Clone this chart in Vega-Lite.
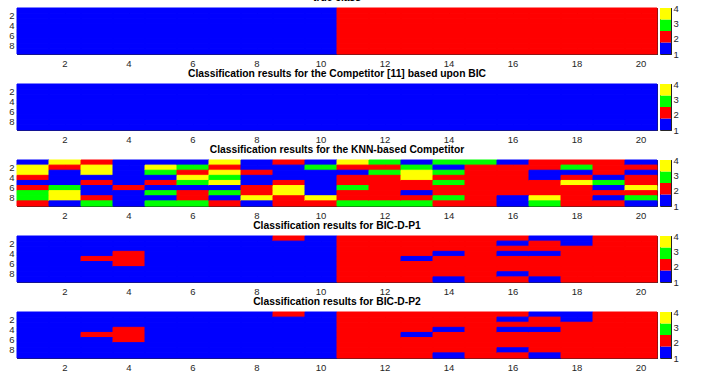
{
  "$schema": "https://vega.github.io/schema/vega-lite/v6.json",
  "padding": {"left": 8, "top": -8, "right": 5, "bottom": 3},
  "datasets": {
    "cells": [
      {"p": "true", "c": 1, "r": [1,2,3,4,5,6,7,8,9], "k": [1,1,1,1,1,1,1,1,1]},
      {"p": "true", "c": 2, "r": [1,2,3,4,5,6,7,8,9], "k": [1,1,1,1,1,1,1,1,1]},
      {"p": "true", "c": 3, "r": [1,2,3,4,5,6,7,8,9], "k": [1,1,1,1,1,1,1,1,1]},
      {"p": "true", "c": 4, "r": [1,2,3,4,5,6,7,8,9], "k": [1,1,1,1,1,1,1,1,1]},
      {"p": "true", "c": 5, "r": [1,2,3,4,5,6,7,8,9], "k": [1,1,1,1,1,1,1,1,1]},
      {"p": "true", "c": 6, "r": [1,2,3,4,5,6,7,8,9], "k": [1,1,1,1,1,1,1,1,1]},
      {"p": "true", "c": 7, "r": [1,2,3,4,5,6,7,8,9], "k": [1,1,1,1,1,1,1,1,1]},
      {"p": "true", "c": 8, "r": [1,2,3,4,5,6,7,8,9], "k": [1,1,1,1,1,1,1,1,1]},
      {"p": "true", "c": 9, "r": [1,2,3,4,5,6,7,8,9], "k": [1,1,1,1,1,1,1,1,1]},
      {"p": "true", "c": 10, "r": [1,2,3,4,5,6,7,8,9], "k": [1,1,1,1,1,1,1,1,1]},
      {"p": "true", "c": 11, "r": [1,2,3,4,5,6,7,8,9], "k": [2,2,2,2,2,2,2,2,2]},
      {"p": "true", "c": 12, "r": [1,2,3,4,5,6,7,8,9], "k": [2,2,2,2,2,2,2,2,2]},
      {"p": "true", "c": 13, "r": [1,2,3,4,5,6,7,8,9], "k": [2,2,2,2,2,2,2,2,2]},
      {"p": "true", "c": 14, "r": [1,2,3,4,5,6,7,8,9], "k": [2,2,2,2,2,2,2,2,2]},
      {"p": "true", "c": 15, "r": [1,2,3,4,5,6,7,8,9], "k": [2,2,2,2,2,2,2,2,2]},
      {"p": "true", "c": 16, "r": [1,2,3,4,5,6,7,8,9], "k": [2,2,2,2,2,2,2,2,2]},
      {"p": "true", "c": 17, "r": [1,2,3,4,5,6,7,8,9], "k": [2,2,2,2,2,2,2,2,2]},
      {"p": "true", "c": 18, "r": [1,2,3,4,5,6,7,8,9], "k": [2,2,2,2,2,2,2,2,2]},
      {"p": "true", "c": 19, "r": [1,2,3,4,5,6,7,8,9], "k": [2,2,2,2,2,2,2,2,2]},
      {"p": "true", "c": 20, "r": [1,2,3,4,5,6,7,8,9], "k": [2,2,2,2,2,2,2,2,2]},

      {"p": "bic", "c": 1, "r": [1,2,3,4,5,6,7,8,9], "k": [1,1,1,1,1,1,1,1,1]},
      {"p": "bic", "c": 2, "r": [1,2,3,4,5,6,7,8,9], "k": [1,1,1,1,1,1,1,1,1]},
      {"p": "bic", "c": 3, "r": [1,2,3,4,5,6,7,8,9], "k": [1,1,1,1,1,1,1,1,1]},
      {"p": "bic", "c": 4, "r": [1,2,3,4,5,6,7,8,9], "k": [1,1,1,1,1,1,1,1,1]},
      {"p": "bic", "c": 5, "r": [1,2,3,4,5,6,7,8,9], "k": [1,1,1,1,1,1,1,1,1]},
      {"p": "bic", "c": 6, "r": [1,2,3,4,5,6,7,8,9], "k": [1,1,1,1,1,1,1,1,1]},
      {"p": "bic", "c": 7, "r": [1,2,3,4,5,6,7,8,9], "k": [1,1,1,1,1,1,1,1,1]},
      {"p": "bic", "c": 8, "r": [1,2,3,4,5,6,7,8,9], "k": [1,1,1,1,1,1,1,1,1]},
      {"p": "bic", "c": 9, "r": [1,2,3,4,5,6,7,8,9], "k": [1,1,1,1,1,1,1,1,1]},
      {"p": "bic", "c": 10, "r": [1,2,3,4,5,6,7,8,9], "k": [1,1,1,1,1,1,1,1,1]},
      {"p": "bic", "c": 11, "r": [1,2,3,4,5,6,7,8,9], "k": [1,1,1,1,1,1,1,1,1]},
      {"p": "bic", "c": 12, "r": [1,2,3,4,5,6,7,8,9], "k": [1,1,1,1,1,1,1,1,1]},
      {"p": "bic", "c": 13, "r": [1,2,3,4,5,6,7,8,9], "k": [1,1,1,1,1,1,1,1,1]},
      {"p": "bic", "c": 14, "r": [1,2,3,4,5,6,7,8,9], "k": [1,1,1,1,1,1,1,1,1]},
      {"p": "bic", "c": 15, "r": [1,2,3,4,5,6,7,8,9], "k": [1,1,1,1,1,1,1,1,1]},
      {"p": "bic", "c": 16, "r": [1,2,3,4,5,6,7,8,9], "k": [1,1,1,1,1,1,1,1,1]},
      {"p": "bic", "c": 17, "r": [1,2,3,4,5,6,7,8,9], "k": [1,1,1,1,1,1,1,1,1]},
      {"p": "bic", "c": 18, "r": [1,2,3,4,5,6,7,8,9], "k": [1,1,1,1,1,1,1,1,1]},
      {"p": "bic", "c": 19, "r": [1,2,3,4,5,6,7,8,9], "k": [1,1,1,1,1,1,1,1,1]},
      {"p": "bic", "c": 20, "r": [1,2,3,4,5,6,7,8,9], "k": [1,1,1,1,1,1,1,1,1]},

      {"p": "knn", "c": 1, "r": [1,2,3,4,5,6,7,8,9], "k": [1,4,4,2,1,2,3,3,2]},
      {"p": "knn", "c": 2, "r": [1,2,3,4,5,6,7,8,9], "k": [4,2,1,1,1,3,4,4,1]},
      {"p": "knn", "c": 3, "r": [1,2,3,4,5,6,7,8,9], "k": [2,4,4,1,2,1,1,2,3]},
      {"p": "knn", "c": 4, "r": [1,2,3,4,5,6,7,8,9], "k": [1,1,1,1,1,2,1,1,1]},
      {"p": "knn", "c": 5, "r": [1,2,3,4,5,6,7,8,9], "k": [1,4,3,1,2,1,3,1,3]},
      {"p": "knn", "c": 6, "r": [1,2,3,4,5,6,7,8,9], "k": [1,3,2,4,3,1,2,2,3]},
      {"p": "knn", "c": 7, "r": [1,2,3,4,5,6,7,8,9], "k": [4,2,4,3,4,1,3,1,2]},
      {"p": "knn", "c": 8, "r": [1,2,3,4,5,6,7,8,9], "k": [1,1,2,1,1,2,2,4,1]},
      {"p": "knn", "c": 9, "r": [1,2,3,4,5,6,7,8,9], "k": [2,1,1,1,2,4,4,2,2]},
      {"p": "knn", "c": 10, "r": [1,2,3,4,5,6,7,8,9], "k": [1,3,1,1,1,1,1,4,2]},
      {"p": "knn", "c": 11, "r": [1,2,3,4,5,6,7,8,9], "k": [4,2,1,2,2,3,2,2,3]},
      {"p": "knn", "c": 12, "r": [1,2,3,4,5,6,7,8,9], "k": [3,2,3,2,2,2,2,2,3]},
      {"p": "knn", "c": 13, "r": [1,2,3,4,5,6,7,8,9], "k": [1,3,4,4,2,2,1,2,3]},
      {"p": "knn", "c": 14, "r": [1,2,3,4,5,6,7,8,9], "k": [3,1,3,2,3,2,2,3,2]},
      {"p": "knn", "c": 15, "r": [1,2,3,4,5,6,7,8,9], "k": [3,2,2,2,2,2,2,2,2]},
      {"p": "knn", "c": 16, "r": [1,2,3,4,5,6,7,8,9], "k": [1,2,2,2,2,2,2,1,1]},
      {"p": "knn", "c": 17, "r": [1,2,3,4,5,6,7,8,9], "k": [2,2,1,1,2,2,2,4,3]},
      {"p": "knn", "c": 18, "r": [1,2,3,4,5,6,7,8,9], "k": [2,3,1,2,4,2,2,2,2]},
      {"p": "knn", "c": 19, "r": [1,2,3,4,5,6,7,8,9], "k": [2,2,2,1,3,1,2,1,2]},
      {"p": "knn", "c": 20, "r": [1,2,3,4,5,6,7,8,9], "k": [1,2,1,2,2,4,2,3,1]},

      {"p": "p1", "c": 1, "r": [1,2,3,4,5,6,7,8,9], "k": [1,1,1,1,1,1,1,1,1]},
      {"p": "p1", "c": 2, "r": [1,2,3,4,5,6,7,8,9], "k": [1,1,1,1,1,1,1,1,1]},
      {"p": "p1", "c": 3, "r": [1,2,3,4,5,6,7,8,9], "k": [1,1,1,1,2,1,1,1,1]},
      {"p": "p1", "c": 4, "r": [1,2,3,4,5,6,7,8,9], "k": [1,1,1,2,2,2,1,1,1]},
      {"p": "p1", "c": 5, "r": [1,2,3,4,5,6,7,8,9], "k": [1,1,1,1,1,1,1,1,1]},
      {"p": "p1", "c": 6, "r": [1,2,3,4,5,6,7,8,9], "k": [1,1,1,1,1,1,1,1,1]},
      {"p": "p1", "c": 7, "r": [1,2,3,4,5,6,7,8,9], "k": [1,1,1,1,1,1,1,1,1]},
      {"p": "p1", "c": 8, "r": [1,2,3,4,5,6,7,8,9], "k": [1,1,1,1,1,1,1,1,1]},
      {"p": "p1", "c": 9, "r": [1,2,3,4,5,6,7,8,9], "k": [2,1,1,1,1,1,1,1,1]},
      {"p": "p1", "c": 10, "r": [1,2,3,4,5,6,7,8,9], "k": [1,1,1,1,1,1,1,1,1]},
      {"p": "p1", "c": 11, "r": [1,2,3,4,5,6,7,8,9], "k": [2,2,2,2,2,2,2,2,2]},
      {"p": "p1", "c": 12, "r": [1,2,3,4,5,6,7,8,9], "k": [2,2,2,2,2,2,2,2,2]},
      {"p": "p1", "c": 13, "r": [1,2,3,4,5,6,7,8,9], "k": [2,2,2,2,1,2,2,2,2]},
      {"p": "p1", "c": 14, "r": [1,2,3,4,5,6,7,8,9], "k": [2,2,2,1,2,2,2,2,1]},
      {"p": "p1", "c": 15, "r": [1,2,3,4,5,6,7,8,9], "k": [2,2,2,2,2,2,2,2,2]},
      {"p": "p1", "c": 16, "r": [1,2,3,4,5,6,7,8,9], "k": [2,1,2,1,2,2,2,1,2]},
      {"p": "p1", "c": 17, "r": [1,2,3,4,5,6,7,8,9], "k": [1,2,2,1,2,2,2,2,1]},
      {"p": "p1", "c": 18, "r": [1,2,3,4,5,6,7,8,9], "k": [1,1,2,2,2,2,2,2,2]},
      {"p": "p1", "c": 19, "r": [1,2,3,4,5,6,7,8,9], "k": [2,2,2,2,2,2,2,2,2]},
      {"p": "p1", "c": 20, "r": [1,2,3,4,5,6,7,8,9], "k": [2,2,2,2,2,2,2,2,2]},

      {"p": "p2", "c": 1, "r": [1,2,3,4,5,6,7,8,9], "k": [1,1,1,1,1,1,1,1,1]},
      {"p": "p2", "c": 2, "r": [1,2,3,4,5,6,7,8,9], "k": [1,1,1,1,1,1,1,1,1]},
      {"p": "p2", "c": 3, "r": [1,2,3,4,5,6,7,8,9], "k": [1,1,1,1,2,1,1,1,1]},
      {"p": "p2", "c": 4, "r": [1,2,3,4,5,6,7,8,9], "k": [1,1,1,2,2,2,1,1,1]},
      {"p": "p2", "c": 5, "r": [1,2,3,4,5,6,7,8,9], "k": [1,1,1,1,1,1,1,1,1]},
      {"p": "p2", "c": 6, "r": [1,2,3,4,5,6,7,8,9], "k": [1,1,1,1,1,1,1,1,1]},
      {"p": "p2", "c": 7, "r": [1,2,3,4,5,6,7,8,9], "k": [1,1,1,1,1,1,1,1,1]},
      {"p": "p2", "c": 8, "r": [1,2,3,4,5,6,7,8,9], "k": [1,1,1,1,1,1,1,1,1]},
      {"p": "p2", "c": 9, "r": [1,2,3,4,5,6,7,8,9], "k": [2,1,1,1,1,1,1,1,1]},
      {"p": "p2", "c": 10, "r": [1,2,3,4,5,6,7,8,9], "k": [1,1,1,1,1,1,1,1,1]},
      {"p": "p2", "c": 11, "r": [1,2,3,4,5,6,7,8,9], "k": [2,2,2,2,2,2,2,2,2]},
      {"p": "p2", "c": 12, "r": [1,2,3,4,5,6,7,8,9], "k": [2,2,2,2,2,2,2,2,2]},
      {"p": "p2", "c": 13, "r": [1,2,3,4,5,6,7,8,9], "k": [2,2,2,2,1,2,2,2,2]},
      {"p": "p2", "c": 14, "r": [1,2,3,4,5,6,7,8,9], "k": [2,2,2,1,2,2,2,2,1]},
      {"p": "p2", "c": 15, "r": [1,2,3,4,5,6,7,8,9], "k": [2,2,2,2,2,2,2,2,2]},
      {"p": "p2", "c": 16, "r": [1,2,3,4,5,6,7,8,9], "k": [2,1,2,1,2,2,2,1,2]},
      {"p": "p2", "c": 17, "r": [1,2,3,4,5,6,7,8,9], "k": [1,2,2,1,2,2,2,2,1]},
      {"p": "p2", "c": 18, "r": [1,2,3,4,5,6,7,8,9], "k": [1,1,2,2,2,2,2,2,2]},
      {"p": "p2", "c": 19, "r": [1,2,3,4,5,6,7,8,9], "k": [2,2,2,2,2,2,2,2,2]},
      {"p": "p2", "c": 20, "r": [1,2,3,4,5,6,7,8,9], "k": [2,2,2,2,2,2,2,2,2]}
    ],
    "bar": [
      {"lo": 1, "hi": 1.75, "k": 1},
      {"lo": 1.75, "hi": 2.5, "k": 2},
      {"lo": 2.5, "hi": 3.25, "k": 3},
      {"lo": 3.25, "hi": 4, "k": 4}
    ]
  },
  "spacing": 0,
  "vconcat": [
    {
      "spacing": 1,
      "hconcat": [
        {
          "title": "true class",
          "width": 640, "height": 46,
          "data": {"name": "cells"},
          "transform": [{"filter": "datum.p === 'true'"}, {"flatten": ["r", "k"]}],
          "layer": [
            {"mark": {"type": "rect", "strokeWidth": 1},
             "encoding": {
               "x": {"field": "c", "type": "ordinal", "scale": {"domain": [1,2,3,4,5,6,7,8,9,10,11,12,13,14,15,16,17,18,19,20], "paddingInner": 0, "paddingOuter": 0}, "axis": {"orient": "bottom", "values": [2,4,6,8,10,12,14,16,18,20], "labelAngle": 0, "title": null, "tickSize": -6, "labelPadding": 10}},
               "y": {"field": "r", "type": "ordinal", "scale": {"domain": [1,2,3,4,5,6,7,8,9], "paddingInner": 0, "paddingOuter": 0}, "axis": {"orient": "left", "values": [2,4,6,8], "title": null, "tickSize": -6, "labelPadding": 9}},
               "color": {"field": "k", "type": "nominal", "scale": {"domain": [1,2,3,4], "range": ["#0000ff","#ff0000","#00ff00","#ffff00"]}, "legend": null},
               "stroke": {"field": "k", "type": "nominal", "scale": {"domain": [1,2,3,4], "range": ["#0000ff","#ff0000","#00ff00","#ffff00"]}, "legend": null}
             }},
            {"mark": {"type": "rect", "opacity": 0},
             "encoding": {
               "x": {"field": "c", "type": "ordinal", "axis": {"orient": "top", "values": [2,4,6,8,10,12,14,16,18,20], "labels": false, "title": null, "tickSize": -6}},
               "y": {"field": "r", "type": "ordinal", "axis": {"orient": "right", "values": [2,4,6,8], "labels": false, "title": null, "tickSize": -6}}
             }}
          ],
          "resolve": {"axis": {"x": "independent", "y": "independent"}}
        },
        {
          "width": 11, "height": 46,
          "data": {"name": "bar"},
          "mark": "rect",
          "encoding": {
            "y": {"field": "lo", "type": "quantitative", "scale": {"domain": [1, 4], "nice": false, "zero": false}, "axis": {"orient": "right", "values": [1,2,3,4], "title": null, "tickSize": -3, "labelPadding": 5}},
            "y2": {"field": "hi"},
            "color": {"field": "k", "type": "nominal", "scale": {"domain": [1,2,3,4], "range": ["#0000ff","#ff0000","#00ff00","#ffff00"]}, "legend": null}
          }
        }
      ]
    },
    {
      "spacing": 1,
      "hconcat": [
        {
          "title": "Classification results for the Competitor [11] based upon BIC",
          "width": 640, "height": 46,
          "data": {"name": "cells"},
          "transform": [{"filter": "datum.p === 'bic'"}, {"flatten": ["r", "k"]}],
          "layer": [
            {"mark": {"type": "rect", "strokeWidth": 1},
             "encoding": {
               "x": {"field": "c", "type": "ordinal", "scale": {"domain": [1,2,3,4,5,6,7,8,9,10,11,12,13,14,15,16,17,18,19,20], "paddingInner": 0, "paddingOuter": 0}, "axis": {"orient": "bottom", "values": [2,4,6,8,10,12,14,16,18,20], "labelAngle": 0, "title": null, "tickSize": -6, "labelPadding": 10}},
               "y": {"field": "r", "type": "ordinal", "scale": {"domain": [1,2,3,4,5,6,7,8,9], "paddingInner": 0, "paddingOuter": 0}, "axis": {"orient": "left", "values": [2,4,6,8], "title": null, "tickSize": -6, "labelPadding": 9}},
               "color": {"field": "k", "type": "nominal", "scale": {"domain": [1,2,3,4], "range": ["#0000ff","#ff0000","#00ff00","#ffff00"]}, "legend": null},
               "stroke": {"field": "k", "type": "nominal", "scale": {"domain": [1,2,3,4], "range": ["#0000ff","#ff0000","#00ff00","#ffff00"]}, "legend": null}
             }},
            {"mark": {"type": "rect", "opacity": 0},
             "encoding": {
               "x": {"field": "c", "type": "ordinal", "axis": {"orient": "top", "values": [2,4,6,8,10,12,14,16,18,20], "labels": false, "title": null, "tickSize": -6}},
               "y": {"field": "r", "type": "ordinal", "axis": {"orient": "right", "values": [2,4,6,8], "labels": false, "title": null, "tickSize": -6}}
             }}
          ],
          "resolve": {"axis": {"x": "independent", "y": "independent"}}
        },
        {
          "width": 11, "height": 46,
          "data": {"name": "bar"},
          "mark": "rect",
          "encoding": {
            "y": {"field": "lo", "type": "quantitative", "scale": {"domain": [1, 4], "nice": false, "zero": false}, "axis": {"orient": "right", "values": [1,2,3,4], "title": null, "tickSize": -3, "labelPadding": 5}},
            "y2": {"field": "hi"},
            "color": {"field": "k", "type": "nominal", "scale": {"domain": [1,2,3,4], "range": ["#0000ff","#ff0000","#00ff00","#ffff00"]}, "legend": null}
          }
        }
      ]
    },
    {
      "spacing": 1,
      "hconcat": [
        {
          "title": "Classification results for the KNN-based Competitor",
          "width": 640, "height": 46,
          "data": {"name": "cells"},
          "transform": [{"filter": "datum.p === 'knn'"}, {"flatten": ["r", "k"]}],
          "layer": [
            {"mark": {"type": "rect", "strokeWidth": 1},
             "encoding": {
               "x": {"field": "c", "type": "ordinal", "scale": {"domain": [1,2,3,4,5,6,7,8,9,10,11,12,13,14,15,16,17,18,19,20], "paddingInner": 0, "paddingOuter": 0}, "axis": {"orient": "bottom", "values": [2,4,6,8,10,12,14,16,18,20], "labelAngle": 0, "title": null, "tickSize": -6, "labelPadding": 10}},
               "y": {"field": "r", "type": "ordinal", "scale": {"domain": [1,2,3,4,5,6,7,8,9], "paddingInner": 0, "paddingOuter": 0}, "axis": {"orient": "left", "values": [2,4,6,8], "title": null, "tickSize": -6, "labelPadding": 9}},
               "color": {"field": "k", "type": "nominal", "scale": {"domain": [1,2,3,4], "range": ["#0000ff","#ff0000","#00ff00","#ffff00"]}, "legend": null},
               "stroke": {"field": "k", "type": "nominal", "scale": {"domain": [1,2,3,4], "range": ["#0000ff","#ff0000","#00ff00","#ffff00"]}, "legend": null}
             }},
            {"mark": {"type": "rect", "opacity": 0},
             "encoding": {
               "x": {"field": "c", "type": "ordinal", "axis": {"orient": "top", "values": [2,4,6,8,10,12,14,16,18,20], "labels": false, "title": null, "tickSize": -6}},
               "y": {"field": "r", "type": "ordinal", "axis": {"orient": "right", "values": [2,4,6,8], "labels": false, "title": null, "tickSize": -6}}
             }}
          ],
          "resolve": {"axis": {"x": "independent", "y": "independent"}}
        },
        {
          "width": 11, "height": 46,
          "data": {"name": "bar"},
          "mark": "rect",
          "encoding": {
            "y": {"field": "lo", "type": "quantitative", "scale": {"domain": [1, 4], "nice": false, "zero": false}, "axis": {"orient": "right", "values": [1,2,3,4], "title": null, "tickSize": -3, "labelPadding": 5}},
            "y2": {"field": "hi"},
            "color": {"field": "k", "type": "nominal", "scale": {"domain": [1,2,3,4], "range": ["#0000ff","#ff0000","#00ff00","#ffff00"]}, "legend": null}
          }
        }
      ]
    },
    {
      "spacing": 1,
      "hconcat": [
        {
          "title": "Classification results for BIC-D-P1",
          "width": 640, "height": 46,
          "data": {"name": "cells"},
          "transform": [{"filter": "datum.p === 'p1'"}, {"flatten": ["r", "k"]}],
          "layer": [
            {"mark": {"type": "rect", "strokeWidth": 1},
             "encoding": {
               "x": {"field": "c", "type": "ordinal", "scale": {"domain": [1,2,3,4,5,6,7,8,9,10,11,12,13,14,15,16,17,18,19,20], "paddingInner": 0, "paddingOuter": 0}, "axis": {"orient": "bottom", "values": [2,4,6,8,10,12,14,16,18,20], "labelAngle": 0, "title": null, "tickSize": -6, "labelPadding": 10}},
               "y": {"field": "r", "type": "ordinal", "scale": {"domain": [1,2,3,4,5,6,7,8,9], "paddingInner": 0, "paddingOuter": 0}, "axis": {"orient": "left", "values": [2,4,6,8], "title": null, "tickSize": -6, "labelPadding": 9}},
               "color": {"field": "k", "type": "nominal", "scale": {"domain": [1,2,3,4], "range": ["#0000ff","#ff0000","#00ff00","#ffff00"]}, "legend": null},
               "stroke": {"field": "k", "type": "nominal", "scale": {"domain": [1,2,3,4], "range": ["#0000ff","#ff0000","#00ff00","#ffff00"]}, "legend": null}
             }},
            {"mark": {"type": "rect", "opacity": 0},
             "encoding": {
               "x": {"field": "c", "type": "ordinal", "axis": {"orient": "top", "values": [2,4,6,8,10,12,14,16,18,20], "labels": false, "title": null, "tickSize": -6}},
               "y": {"field": "r", "type": "ordinal", "axis": {"orient": "right", "values": [2,4,6,8], "labels": false, "title": null, "tickSize": -6}}
             }}
          ],
          "resolve": {"axis": {"x": "independent", "y": "independent"}}
        },
        {
          "width": 11, "height": 46,
          "data": {"name": "bar"},
          "mark": "rect",
          "encoding": {
            "y": {"field": "lo", "type": "quantitative", "scale": {"domain": [1, 4], "nice": false, "zero": false}, "axis": {"orient": "right", "values": [1,2,3,4], "title": null, "tickSize": -3, "labelPadding": 5}},
            "y2": {"field": "hi"},
            "color": {"field": "k", "type": "nominal", "scale": {"domain": [1,2,3,4], "range": ["#0000ff","#ff0000","#00ff00","#ffff00"]}, "legend": null}
          }
        }
      ]
    },
    {
      "spacing": 1,
      "hconcat": [
        {
          "title": "Classification results for BIC-D-P2",
          "width": 640, "height": 46,
          "data": {"name": "cells"},
          "transform": [{"filter": "datum.p === 'p2'"}, {"flatten": ["r", "k"]}],
          "layer": [
            {"mark": {"type": "rect", "strokeWidth": 1},
             "encoding": {
               "x": {"field": "c", "type": "ordinal", "scale": {"domain": [1,2,3,4,5,6,7,8,9,10,11,12,13,14,15,16,17,18,19,20], "paddingInner": 0, "paddingOuter": 0}, "axis": {"orient": "bottom", "values": [2,4,6,8,10,12,14,16,18,20], "labelAngle": 0, "title": null, "tickSize": -6, "labelPadding": 10}},
               "y": {"field": "r", "type": "ordinal", "scale": {"domain": [1,2,3,4,5,6,7,8,9], "paddingInner": 0, "paddingOuter": 0}, "axis": {"orient": "left", "values": [2,4,6,8], "title": null, "tickSize": -6, "labelPadding": 9}},
               "color": {"field": "k", "type": "nominal", "scale": {"domain": [1,2,3,4], "range": ["#0000ff","#ff0000","#00ff00","#ffff00"]}, "legend": null},
               "stroke": {"field": "k", "type": "nominal", "scale": {"domain": [1,2,3,4], "range": ["#0000ff","#ff0000","#00ff00","#ffff00"]}, "legend": null}
             }},
            {"mark": {"type": "rect", "opacity": 0},
             "encoding": {
               "x": {"field": "c", "type": "ordinal", "axis": {"orient": "top", "values": [2,4,6,8,10,12,14,16,18,20], "labels": false, "title": null, "tickSize": -6}},
               "y": {"field": "r", "type": "ordinal", "axis": {"orient": "right", "values": [2,4,6,8], "labels": false, "title": null, "tickSize": -6}}
             }}
          ],
          "resolve": {"axis": {"x": "independent", "y": "independent"}}
        },
        {
          "width": 11, "height": 46,
          "data": {"name": "bar"},
          "mark": "rect",
          "encoding": {
            "y": {"field": "lo", "type": "quantitative", "scale": {"domain": [1, 4], "nice": false, "zero": false}, "axis": {"orient": "right", "values": [1,2,3,4], "title": null, "tickSize": -3, "labelPadding": 5}},
            "y2": {"field": "hi"},
            "color": {"field": "k", "type": "nominal", "scale": {"domain": [1,2,3,4], "range": ["#0000ff","#ff0000","#00ff00","#ffff00"]}, "legend": null}
          }
        }
      ]
    }
  ],
  "config": {
    "font": "Liberation Sans",
    "view": {"stroke": "#262626", "strokeWidth": 1},
    "axis": {"labelFont": "Liberation Sans", "labelFontSize": 9.5, "labelColor": "#262626", "tickColor": "#262626", "domainColor": "#262626", "domainWidth": 1, "tickWidth": 1, "grid": false, "zindex": 1},
    "title": {"font": "Liberation Sans", "fontSize": 10.3, "fontWeight": "bold", "color": "#000000", "baseline": "alphabetic", "offset": 4}
  }
}
